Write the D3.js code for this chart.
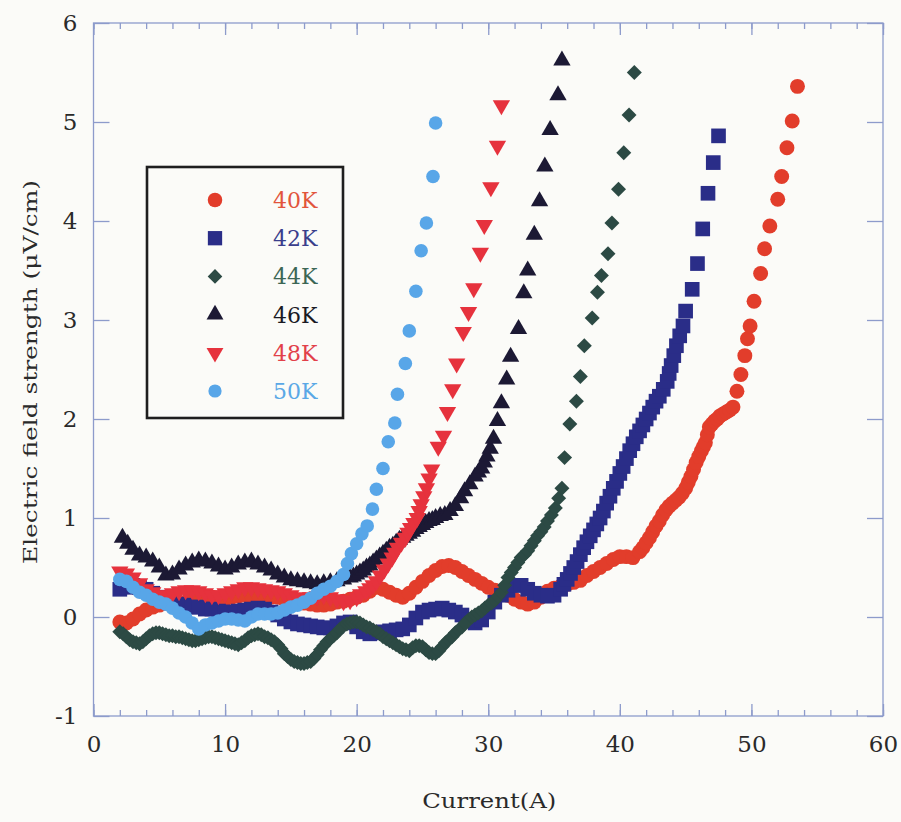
<!DOCTYPE html>
<html>
<head>
<meta charset="utf-8">
<script src="https://cdn.jsdelivr.net/npm/d3@7/dist/d3.min.js"></script>
<style>
  html, body { margin: 0; padding: 0; background: #fbfbf8; }
  svg { display: block; }
</style>
</head>
<body>
<svg id="chart" width="901" height="822"></svg>
<script>
// Measured E–I curves: [current (A), electric field (µV/cm)]
const k40 = [[2.0,-0.05],[2.5,-0.06],[3.0,-0.02],[3.5,0.03],[4.0,0.07],[4.5,0.1],[5.0,0.12],[5.5,0.14],[6.0,0.15],[6.5,0.14],[7.0,0.15],[7.5,0.17],[8.0,0.18],[8.5,0.2],[9.0,0.2],[9.5,0.19],[10.0,0.18],[10.5,0.2],[11.0,0.21],[11.5,0.22],[12.0,0.22],[12.5,0.23],[13.0,0.22],[13.5,0.2],[14.0,0.2],[14.5,0.18],[15.0,0.16],[15.5,0.15],[16.0,0.14],[16.5,0.13],[17.0,0.12],[17.5,0.12],[18.0,0.13],[18.5,0.15],[19.0,0.16],[19.5,0.18],[20.0,0.2],[20.5,0.22],[21.0,0.26],[21.5,0.3],[22.0,0.28],[22.5,0.25],[23.0,0.22],[23.5,0.2],[24.0,0.24],[24.5,0.3],[25.0,0.36],[25.5,0.42],[26.0,0.47],[26.5,0.51],[27.0,0.52],[27.5,0.5],[28.0,0.46],[28.5,0.42],[29.0,0.38],[29.5,0.34],[30.0,0.3],[30.5,0.27],[31.0,0.25],[31.5,0.22],[32.0,0.18],[32.5,0.15],[33.0,0.13],[33.5,0.15],[34.0,0.2],[34.5,0.26],[35.0,0.29],[35.5,0.31],[36.0,0.33],[36.5,0.35],[37.0,0.37],[37.5,0.42],[38.0,0.46],[38.5,0.5],[39.0,0.54],[39.5,0.58],[40.0,0.61],[40.5,0.61],[41.0,0.6],[41.5,0.66],[41.75,0.7],[42.0,0.75],[42.25,0.8],[42.5,0.86],[42.75,0.92],[43.0,0.97],[43.25,1.03],[43.5,1.08],[43.75,1.12],[44.0,1.15],[44.25,1.18],[44.5,1.21],[44.75,1.25],[45.0,1.3],[45.2,1.36],[45.4,1.42],[45.6,1.49],[45.8,1.56],[46.0,1.62],[46.2,1.68],[46.35,1.72],[46.5,1.76],[46.65,1.84],[46.8,1.92],[47.0,1.95],[47.2,1.98],[47.4,2.0],[47.6,2.03],[47.85,2.05],[48.1,2.07],[48.35,2.09],[48.6,2.12],[48.9,2.28],[49.2,2.45],[49.5,2.64],[49.7,2.81],[49.9,2.94],[50.2,3.19],[50.7,3.47],[51.0,3.72],[51.4,3.95],[52.0,4.22],[52.3,4.45],[52.7,4.74],[53.1,5.01],[53.5,5.36]];

const k42 = [[2.0,0.28],[2.5,0.3],[3.0,0.32],[3.5,0.3],[4.0,0.28],[4.5,0.24],[5.0,0.2],[5.5,0.17],[6.0,0.15],[6.5,0.13],[7.0,0.12],[7.5,0.1],[8.0,0.1],[8.5,0.08],[9.0,0.08],[9.5,0.06],[10.0,0.05],[10.5,0.05],[11.0,0.06],[11.5,0.07],[12.0,0.08],[12.5,0.09],[13.0,0.08],[13.5,0.05],[14.0,0.02],[14.5,-0.02],[15.0,-0.05],[15.5,-0.07],[16.0,-0.08],[16.5,-0.09],[17.0,-0.1],[17.5,-0.11],[18.0,-0.11],[18.5,-0.09],[19.0,-0.06],[19.5,-0.05],[20.0,-0.1],[20.5,-0.15],[21.0,-0.17],[21.5,-0.16],[22.0,-0.15],[22.5,-0.14],[23.0,-0.13],[23.5,-0.12],[24.0,-0.08],[24.5,-0.01],[25.0,0.05],[25.5,0.07],[26.0,0.08],[26.5,0.09],[27.0,0.07],[27.5,0.05],[28.0,0.02],[28.5,-0.03],[29.0,-0.06],[29.5,-0.03],[30.0,0.05],[30.5,0.15],[31.0,0.22],[31.5,0.27],[32.0,0.32],[32.5,0.32],[33.0,0.28],[33.5,0.24],[34.0,0.22],[34.5,0.21],[35.0,0.22],[35.5,0.28],[35.75,0.33],[36.0,0.38],[36.25,0.44],[36.5,0.5],[36.75,0.56],[37.0,0.63],[37.25,0.7],[37.5,0.76],[37.75,0.82],[38.0,0.88],[38.25,0.94],[38.5,1.0],[38.75,1.07],[39.0,1.15],[39.25,1.22],[39.5,1.3],[39.75,1.37],[40.0,1.45],[40.25,1.52],[40.5,1.6],[40.75,1.68],[41.0,1.75],[41.25,1.82],[41.5,1.88],[41.75,1.94],[42.0,2.0],[42.25,2.06],[42.5,2.12],[42.75,2.18],[43.0,2.23],[43.3,2.3],[43.6,2.38],[43.75,2.46],[43.9,2.54],[44.1,2.64],[44.3,2.74],[44.55,2.84],[44.8,2.94],[45.0,3.09],[45.5,3.31],[45.9,3.57],[46.3,3.92],[46.7,4.28],[47.1,4.59],[47.5,4.86]];

const k44 = [[2.0,-0.15],[2.25,-0.17],[2.5,-0.2],[2.75,-0.23],[3.0,-0.25],[3.25,-0.26],[3.5,-0.27],[3.75,-0.25],[4.0,-0.22],[4.25,-0.19],[4.5,-0.17],[4.75,-0.16],[5.0,-0.16],[5.25,-0.17],[5.5,-0.18],[5.75,-0.19],[6.0,-0.19],[6.25,-0.2],[6.5,-0.2],[6.75,-0.21],[7.0,-0.22],[7.25,-0.23],[7.5,-0.24],[7.75,-0.24],[8.0,-0.23],[8.25,-0.22],[8.5,-0.21],[8.75,-0.2],[9.0,-0.2],[9.25,-0.21],[9.5,-0.22],[9.75,-0.23],[10.0,-0.24],[10.25,-0.25],[10.5,-0.26],[10.75,-0.27],[11.0,-0.28],[11.25,-0.26],[11.5,-0.24],[11.75,-0.21],[12.0,-0.19],[12.25,-0.18],[12.5,-0.17],[12.75,-0.18],[13.0,-0.2],[13.25,-0.21],[13.5,-0.23],[13.75,-0.25],[14.0,-0.28],[14.25,-0.32],[14.5,-0.37],[14.75,-0.4],[15.0,-0.43],[15.25,-0.45],[15.5,-0.46],[15.75,-0.47],[16.0,-0.47],[16.25,-0.46],[16.5,-0.45],[16.75,-0.42],[17.0,-0.38],[17.25,-0.33],[17.5,-0.29],[17.75,-0.25],[18.0,-0.22],[18.25,-0.19],[18.5,-0.16],[18.75,-0.12],[19.0,-0.09],[19.25,-0.07],[19.5,-0.06],[19.75,-0.05],[20.0,-0.05],[20.25,-0.06],[20.5,-0.08],[20.75,-0.1],[21.0,-0.11],[21.25,-0.13],[21.5,-0.15],[21.75,-0.17],[22.0,-0.2],[22.25,-0.22],[22.5,-0.24],[22.75,-0.26],[23.0,-0.28],[23.25,-0.3],[23.5,-0.32],[23.75,-0.33],[24.0,-0.34],[24.25,-0.31],[24.5,-0.29],[24.75,-0.29],[25.0,-0.3],[25.25,-0.33],[25.5,-0.36],[25.75,-0.37],[26.0,-0.37],[26.25,-0.34],[26.5,-0.3],[26.75,-0.26],[27.0,-0.23],[27.25,-0.2],[27.5,-0.16],[27.75,-0.13],[28.0,-0.1],[28.25,-0.06],[28.5,-0.03],[28.75,0.0],[29.0,0.02],[29.25,0.04],[29.5,0.06],[29.75,0.09],[30.0,0.12],[30.25,0.14],[30.5,0.17],[30.75,0.21],[31.0,0.25],[31.25,0.32],[31.5,0.4],[31.75,0.45],[32.0,0.5],[32.25,0.55],[32.5,0.6],[32.75,0.63],[33.0,0.67],[33.25,0.72],[33.5,0.77],[33.75,0.82],[34.0,0.86],[34.25,0.91],[34.5,0.97],[34.8,1.03],[35.1,1.1],[35.35,1.2],[35.6,1.3],[35.8,1.61],[36.2,1.95],[36.7,2.18],[37.0,2.43],[37.3,2.74],[37.9,3.02],[38.3,3.28],[38.6,3.45],[39.1,3.67],[39.4,3.98],[39.9,4.32],[40.3,4.69],[40.7,5.07],[41.1,5.5]];

const k46 = [[2.2,0.8],[2.6,0.74],[3.0,0.68],[3.5,0.62],[4.0,0.6],[4.5,0.56],[5.0,0.5],[5.5,0.42],[6.0,0.43],[6.5,0.48],[7.0,0.52],[7.5,0.55],[8.0,0.57],[8.5,0.56],[9.0,0.54],[9.5,0.51],[10.0,0.48],[10.5,0.5],[11.0,0.53],[11.5,0.55],[12.0,0.56],[12.5,0.53],[13.0,0.5],[13.5,0.47],[14.0,0.43],[14.5,0.4],[15.0,0.37],[15.5,0.36],[16.0,0.35],[16.5,0.34],[17.0,0.33],[17.5,0.34],[18.0,0.35],[18.5,0.36],[19.0,0.38],[19.5,0.4],[19.75,0.41],[20.0,0.43],[20.25,0.45],[20.5,0.47],[20.75,0.5],[21.0,0.52],[21.25,0.55],[21.5,0.58],[21.75,0.61],[22.0,0.64],[22.25,0.67],[22.5,0.7],[22.75,0.72],[23.0,0.75],[23.25,0.78],[23.5,0.8],[23.75,0.82],[24.0,0.84],[24.25,0.86],[24.5,0.89],[24.75,0.91],[25.0,0.93],[25.25,0.95],[25.5,0.97],[25.75,0.98],[26.0,1.0],[26.35,1.02],[26.7,1.03],[27.1,1.07],[27.5,1.12],[27.9,1.2],[28.2,1.27],[28.6,1.34],[29.0,1.42],[29.25,1.46],[29.5,1.5],[29.7,1.56],[29.9,1.62],[30.15,1.7],[30.4,1.8],[30.7,1.98],[31.0,2.16],[31.4,2.4],[31.7,2.63],[32.3,2.91],[32.7,3.27],[33.0,3.5],[33.5,3.86],[33.9,4.2],[34.3,4.55],[34.7,4.92],[35.3,5.27],[35.6,5.62]];

const k48 = [[2.0,0.46],[2.5,0.44],[3.0,0.4],[3.5,0.34],[4.0,0.28],[4.5,0.25],[5.0,0.22],[5.5,0.22],[6.0,0.24],[6.5,0.26],[7.0,0.27],[7.5,0.27],[8.0,0.26],[8.5,0.24],[9.0,0.22],[9.5,0.22],[10.0,0.24],[10.5,0.26],[11.0,0.28],[11.5,0.3],[12.0,0.3],[12.5,0.29],[13.0,0.28],[13.5,0.27],[14.0,0.26],[14.5,0.24],[15.0,0.22],[15.5,0.2],[16.0,0.19],[16.5,0.2],[17.0,0.21],[17.5,0.22],[18.0,0.2],[18.5,0.18],[19.0,0.16],[19.5,0.17],[20.0,0.2],[20.3,0.23],[20.7,0.26],[21.0,0.29],[21.25,0.32],[21.5,0.36],[21.8,0.42],[22.1,0.48],[22.4,0.54],[22.7,0.6],[22.9,0.65],[23.1,0.7],[23.4,0.75],[23.7,0.8],[23.9,0.85],[24.1,0.9],[24.35,0.95],[24.6,1.0],[24.75,1.07],[24.9,1.14],[25.1,1.22],[25.3,1.3],[25.5,1.4],[25.7,1.49],[26.2,1.72],[26.6,1.83],[26.9,2.07],[27.3,2.3],[27.6,2.56],[28.1,2.88],[28.5,3.08],[28.9,3.32],[29.4,3.68],[29.7,3.96],[30.2,4.34],[30.7,4.76],[31.0,5.17]];

const k50 = [[2.0,0.38],[2.5,0.36],[3.0,0.3],[3.5,0.25],[4.0,0.22],[4.5,0.18],[5.0,0.15],[5.5,0.13],[6.0,0.09],[6.5,0.04],[7.0,0.0],[7.5,-0.06],[8.0,-0.12],[8.5,-0.08],[9.0,-0.06],[9.5,-0.04],[10.0,-0.02],[10.5,-0.02],[11.0,-0.03],[11.5,-0.04],[12.0,0.0],[12.5,0.03],[13.0,0.03],[13.5,0.03],[14.0,0.04],[14.5,0.07],[15.0,0.1],[15.5,0.12],[16.0,0.15],[16.5,0.19],[17.0,0.24],[17.5,0.28],[18.0,0.31],[18.5,0.36],[19.0,0.43],[19.3,0.54],[19.6,0.64],[20.0,0.74],[20.4,0.84],[20.8,0.92],[21.2,1.09],[21.5,1.29],[22.0,1.5],[22.4,1.77],[22.9,1.96],[23.1,2.25],[23.7,2.56],[24.0,2.89],[24.5,3.29],[24.9,3.7],[25.3,3.98],[25.8,4.45],[26.0,4.99]];

const seriesNames = ["40K", "42K", "44K", "46K", "48K", "50K"];
const seriesData = [k40, k42, k44, k46, k48, k50];
const markerColors = ["#e23d2b", "#2a2d88", "#2c4a44", "#1c1934", "#e6323d", "#58a6e8"];
const labelColors  = ["#e2553c", "#3a3e8c", "#3c6655", "#1a1a24", "#e2404a", "#5aa8e6"];

const xTicks = [0, 10, 20, 30, 40, 50, 60];
const yTicks = [-1, 0, 1, 2, 3, 4, 5, 6];

const svg = d3.select("#chart");
const x = d3.scaleLinear().domain([0, 60]).range([93.5, 883]);
const y = d3.scaleLinear().domain([-1, 6]).range([716, 23]);

const axisColor = "#8d9bcb";
const font = "'DejaVu Serif', 'Liberation Serif', serif";

// marker shapes per series
const shapes = [
  { type: d3.symbolCircle, size: 175, rot: 0 },
  { type: d3.symbolSquare, size: 215, rot: 0 },
  { type: d3.symbolSquare, size: 112, rot: 45 },
  { type: d3.symbolTriangle, size: 130, rot: 0 },
  { type: d3.symbolTriangle, size: 130, rot: 180 },
  { type: d3.symbolCircle, size: 145, rot: 0 }
];

// plot frame
svg.append("rect")
  .attr("x", x(0)).attr("y", y(6))
  .attr("width", x(60) - x(0)).attr("height", y(-1) - y(6))
  .attr("fill", "none").attr("stroke", axisColor).attr("stroke-width", 1.3);

function styleAxis(g) {
  g.select(".domain").remove();
  g.selectAll(".tick line").attr("stroke", axisColor).attr("stroke-width", 1.3);
  g.selectAll(".tick text").attr("fill", "#2a2a2a").attr("font-family", font).attr("font-size", 23);
}

// bottom: minor ticks every 2 A, major every 10 A
svg.append("g").attr("transform", `translate(0,${y(-1)})`)
  .call(d3.axisBottom(x).tickValues(d3.range(0, 61, 2)).tickSizeInner(-6).tickSizeOuter(0).tickFormat(""))
  .call(styleAxis);
svg.append("g").attr("transform", `translate(0,${y(-1)})`)
  .call(d3.axisBottom(x).tickValues(xTicks).tickSizeInner(-12).tickSizeOuter(0).tickPadding(20).tickFormat(d3.format("d")))
  .call(styleAxis);
// top: mirrored ticks
svg.append("g").attr("transform", `translate(0,${y(6)})`)
  .call(d3.axisTop(x).tickValues(d3.range(0, 61, 2)).tickSizeInner(-6).tickSizeOuter(0).tickFormat(""))
  .call(styleAxis);
svg.append("g").attr("transform", `translate(0,${y(6)})`)
  .call(d3.axisTop(x).tickValues(xTicks).tickSizeInner(-12).tickSizeOuter(0).tickFormat(""))
  .call(styleAxis);
// left and right
svg.append("g").attr("transform", `translate(${x(0)},0)`)
  .call(d3.axisLeft(y).tickValues(yTicks).tickSizeInner(-16).tickSizeOuter(0).tickPadding(16)
    .tickFormat(d => d < 0 ? "-" + Math.abs(d) : String(d)))
  .call(styleAxis);
svg.append("g").attr("transform", `translate(${x(60)},0)`)
  .call(d3.axisRight(y).tickValues(yTicks).tickSizeInner(-16).tickSizeOuter(0).tickFormat(""))
  .call(styleAxis);

// axis titles
svg.append("text")
  .attr("x", (x(0) + x(60)) / 2 + 1).attr("y", 808)
  .attr("text-anchor", "middle")
  .attr("font-family", font).attr("font-size", 21).attr("fill", "#2a2a2a")
  .attr("textLength", 134).attr("lengthAdjust", "spacingAndGlyphs")
  .text("Current(A)");
svg.append("text")
  .attr("transform", "translate(37,372) rotate(-90)")
  .attr("text-anchor", "middle")
  .attr("font-family", font).attr("font-size", 19).attr("fill", "#2a2a2a")
  .attr("textLength", 384).attr("lengthAdjust", "spacingAndGlyphs")
  .text("Electric field strength (\u03bcV/cm)");

// data markers
const plot = svg.append("g");
seriesData.forEach((pts, i) => {
  const s = shapes[i];
  const path = d3.symbol().type(s.type).size(s.size)();
  plot.append("g").selectAll("path")
    .data(pts)
    .join("path")
    .attr("d", path)
    .attr("transform", d => `translate(${x(d[0])},${y(d[1])}) rotate(${s.rot})`)
    .attr("fill", markerColors[i]);
});

// legend
const legend = svg.append("g");
legend.append("rect")
  .attr("x", 147).attr("y", 167).attr("width", 196).attr("height", 251)
  .attr("fill", "#fbfbf8").attr("stroke", "#1e1e1e").attr("stroke-width", 2.6);
seriesNames.forEach((name, i) => {
  const cy = 200 + i * 38.2;
  const s = shapes[i];
  legend.append("path")
    .attr("d", d3.symbol().type(s.type).size(s.size * 0.95)())
    .attr("transform", `translate(215,${cy}) rotate(${s.rot})`)
    .attr("fill", markerColors[i]);
  legend.append("text")
    .attr("x", 273).attr("y", cy + 8)
    .attr("font-family", font).attr("font-size", 22)
    .attr("fill", labelColors[i])
    .text(name);
});
</script>
</body>
</html>
